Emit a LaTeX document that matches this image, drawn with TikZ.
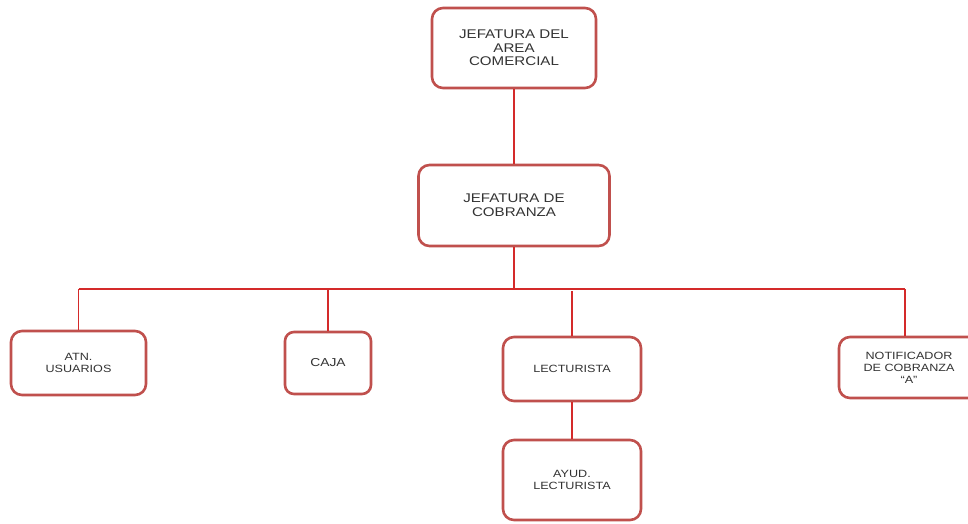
\documentclass[tikz,border=0pt]{standalone}
\usepackage{fontspec}
\setmainfont{Liberation Sans}[FakeStretch=1.2]
\definecolor{boxred}{HTML}{C0504D}
\definecolor{linered}{HTML}{D42A2A}
\definecolor{txt}{HTML}{333333}
\begin{document}
\begin{tikzpicture}[x=1pt,y=-1pt,
  orgbox/.style={draw=boxred, line width=2.6pt, rounded corners=11pt, fill=white,
    text=txt, align=center, inner sep=0pt},
  big/.style={font=\fontsize{12.6}{13.6}\selectfont},
  small/.style={font=\fontsize{10.5}{12}\selectfont},
  conn/.style={draw=linered, line width=1.3pt}]
\useasboundingbox (0,0) rectangle (968,523);
\fill[white] (0,0) rectangle (968,523);
\coordinate (busL) at (78.5,289);
\coordinate (busR) at (905,289);
\coordinate (busC) at (514,289);
\node[orgbox,big,minimum width=164pt,minimum height=80pt] (b1) at (514,48) {JEFATURA DEL\\AREA\\COMERCIAL};
\node[orgbox,big,minimum width=191pt,minimum height=81pt] (b2) at (514,205.5) {JEFATURA DE\\COBRANZA};
\node[orgbox,small,minimum width=135pt,minimum height=64pt] (atn) at (78.5,363) {ATN.\\USUARIOS};
\node[orgbox,font=\fontsize{11.5}{13}\selectfont,minimum width=86pt,minimum height=62pt,rounded corners=9pt] (caja) at (328,363) {CAJA};
\node[orgbox,small,minimum width=138pt,minimum height=64pt] (lect) at (572,369) {LECTURISTA};
\node[orgbox,small,minimum width=140pt,minimum height=61pt] (notif) at (909,367.5) {NOTIFICADOR\\DE COBRANZA\\``A''};
\node[orgbox,small,minimum width=138pt,minimum height=80pt] (ayud) at (572,480) {AYUD.\\LECTURISTA};
\draw[conn] (b1.south) -- (b2.north);
\draw[conn] (b2.south) -- (busC);
\draw[conn] (busL) -- (busR);
\draw[conn] (busL) -- (atn.north);
\draw[conn] (caja.north |- busL) -- (caja.north);
\draw[conn] ([yshift=-2pt]lect.north |- busL) -- (lect.north);
\draw[conn] (busR) -- (busR |- notif.north);
\draw[conn] (lect.south) -- (ayud.north);
\end{tikzpicture}
\end{document}
